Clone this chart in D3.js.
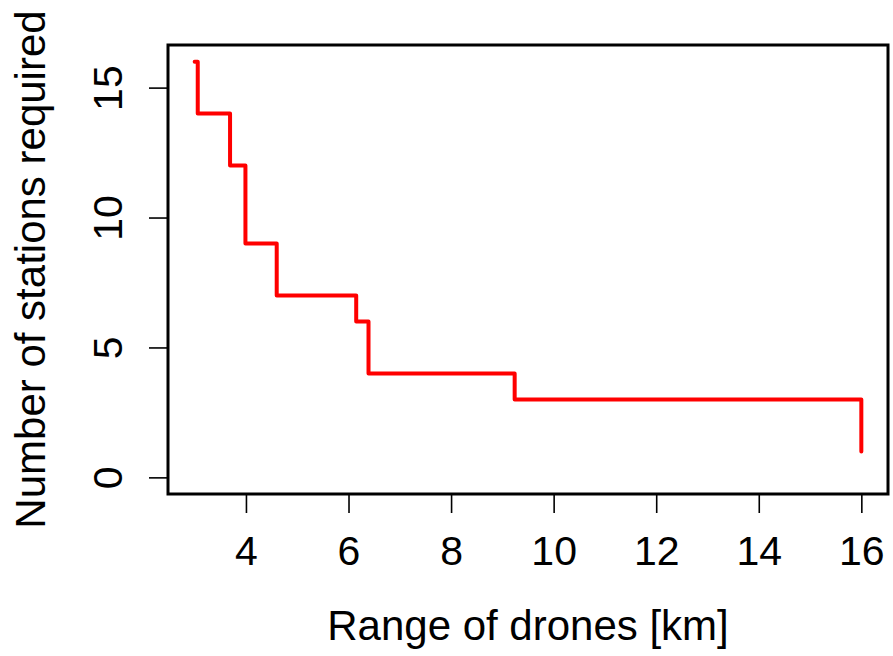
<!DOCTYPE html>
<html>
<head>
<meta charset="utf-8">
<script src="https://cdn.jsdelivr.net/npm/d3@7"></script>
<style>
  html, body { margin: 0; padding: 0; background: #fff; }
  svg { display: block; font-family: "Liberation Sans", Arial, Helvetica, sans-serif; }
</style>
</head>
<body>
<svg id="chart" width="893" height="656"></svg>
<script>
// Data (step plot, R type="s")
const rangeKm = [3.0, 3.06, 3.69, 3.99, 4.60, 6.15, 6.39, 9.24, 16.0];
const stations = [16, 14, 12, 9, 7, 6, 4, 3, 1];
const xTicks = [4, 6, 8, 10, 12, 14, 16];
const yTicks = [0, 5, 10, 15];
const xLabel = "Range of drones [km]";
const yLabel = "Number of stations required";

const svg = d3.select("#chart");
const box = { left: 168, top: 45, right: 888, bottom: 494 };

// R-style 4% padding: xlim = range of data, ylim = c(0,16)
const xlim = [3, 16], ylim = [0, 16];
const px = (xlim[1] - xlim[0]) * 0.04, py = (ylim[1] - ylim[0]) * 0.04;
const x = d3.scaleLinear().domain([xlim[0] - px, xlim[1] + px]).range([box.left, box.right]);
const y = d3.scaleLinear().domain([ylim[0] - py, ylim[1] + py]).range([box.bottom, box.top]);

// X axis
const gx = svg.append("g").attr("transform", `translate(0,${box.bottom})`)
  .call(d3.axisBottom(x).tickValues(xTicks).tickSize(19).tickFormat(d3.format("d")));
gx.select(".domain").remove();
gx.selectAll(".tick line").attr("stroke", "#000").attr("stroke-width", 1.6);
gx.selectAll(".tick text").attr("y", 71).attr("dy", 0)
  .attr("font-size", 41).attr("fill", "#000").attr("font-family", null);

// Y axis
const gy = svg.append("g").attr("transform", `translate(${box.left},0)`)
  .call(d3.axisLeft(y).tickValues(yTicks).tickSize(19).tickFormat(d3.format("d")));
gy.select(".domain").remove();
gy.selectAll(".tick line").attr("stroke", "#000").attr("stroke-width", 1.6);
gy.selectAll(".tick text")
  .attr("x", null).attr("dy", 0)
  .attr("transform", "translate(-46,0) rotate(-90)")
  .attr("text-anchor", "middle")
  .attr("font-size", 41).attr("fill", "#000").attr("font-family", null);

// Step line
const line = d3.line()
  .x((d, i) => x(rangeKm[i]))
  .y((d, i) => y(stations[i]))
  .curve(d3.curveStepAfter);
svg.append("path")
  .attr("d", line(stations))
  .attr("fill", "none")
  .attr("stroke", "#ff0000")
  .attr("stroke-width", 4)
  .attr("stroke-linejoin", "round")
  .attr("stroke-linecap", "round");

// Box
svg.append("rect")
  .attr("x", box.left).attr("y", box.top)
  .attr("width", box.right - box.left).attr("height", box.bottom - box.top)
  .attr("fill", "none").attr("stroke", "#000").attr("stroke-width", 3);

// Axis titles
svg.append("text")
  .attr("x", (box.left + box.right) / 2).attr("y", 640)
  .attr("text-anchor", "middle").attr("font-size", 42).attr("fill", "#000")
  .text(xLabel);
svg.append("text")
  .attr("transform", `translate(45,${(box.top + box.bottom) / 2}) rotate(-90)`)
  .attr("text-anchor", "middle").attr("font-size", 42).attr("fill", "#000")
  .text(yLabel);
</script>
</body>
</html>
